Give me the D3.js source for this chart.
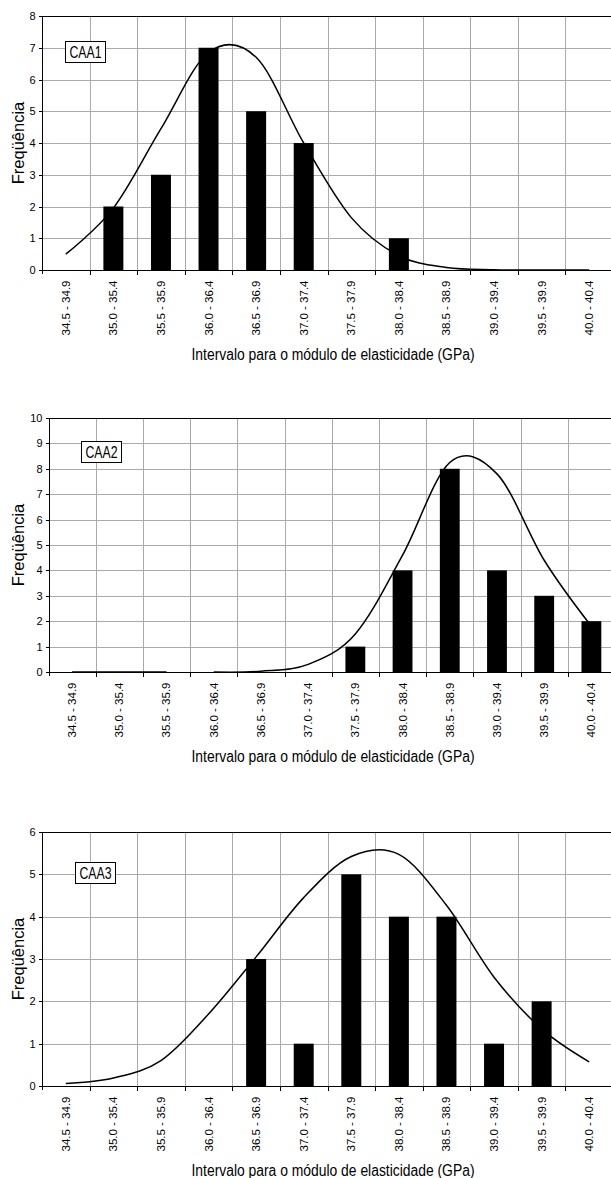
<!DOCTYPE html>
<html>
<head>
<meta charset="utf-8">
<script src="https://cdn.jsdelivr.net/npm/d3@7"></script>
<style>
  body { margin: 0; background: #fff; }
  svg { display: block; }
  .narrow { font-family: "Liberation Sans Narrow", "Arial Narrow", "Liberation Sans", Arial, sans-serif; }
  .grid line { stroke: #aaa; stroke-width: 1; shape-rendering: crispEdges; }
  .axis path, .axis line, .frame { stroke: #000; shape-rendering: crispEdges; }
</style>
</head>
<body>
<div id="chart-container"></div>
<script>
// class intervals (GPa)
var categories = ["34.5 - 34.9", "35.0 - 35.4", "35.5 - 35.9", "36.0 - 36.4",
                  "36.5 - 36.9", "37.0 - 37.4", "37.5 - 37.9", "38.0 - 38.4",
                  "38.5 - 38.9", "39.0 - 39.4", "39.5 - 39.9", "40.0 - 40.4"];

// observed frequencies
var caa1Counts = [0, 2, 3, 7, 5, 4, 0, 1, 0, 0, 0, 0];
var caa2Counts = [0, 0, 0, 0, 0, 0, 1, 4, 8, 4, 3, 2];
var caa3Counts = [0, 0, 0, 0, 3, 1, 5, 4, 4, 1, 2, 0];

// fitted normal curve, read at each class centre
var caa1Curve = [0.5, 1.95, 4.45, 6.85, 6.7, 4.0, 1.65, 0.45, 0.08, 0.01, 0, 0];
var caa2Curve = [0, 0, 0, 0, 0.03, 0.3, 1.5, 4.6, 8.25, 7.8, 4.4, 1.8];
var caa3Curve = [0.06, 0.19, 0.6, 1.7, 3.05, 4.45, 5.42, 5.47, 4.27, 2.57, 1.35, 0.57];

// the CAA2 curve is broken between the 3rd and 4th class
var caa2CurveBreaks = [3];

var seriesNames = ["CAA1", "CAA2", "CAA3"];
var yMaxes = [8, 10, 6];

var xTitle = "Intervalo para o módulo de elasticidade (GPa)";
var yTitle = "Freqüência";

var width = 611, height = 1178;

// one panel per concrete class
var panels = [
  {counts: caa1Counts, curve: caa1Curve, breaks: [], top: 16, left: 42, right: 613, boxX: 65, boxY: 41},
  {counts: caa2Counts, curve: caa2Curve, breaks: caa2CurveBreaks, top: 418, left: 48.5, right: 615, boxX: 81, boxY: 441},
  {counts: caa3Counts, curve: caa3Curve, breaks: [], top: 832, left: 42, right: 613, boxX: 75, boxY: 862}
];
var plotHeight = 254;

var svg = d3.select("#chart-container")
  .append("svg")
    .attr("width", width)
    .attr("height", height);

panels.forEach(function(p, k) {
  var bottom = p.top + plotHeight;

  var xCell = d3.scaleBand()
      .domain(categories)
      .range([p.left, p.right])
      .padding(0);

  var xBar = d3.scaleBand()
      .domain(categories)
      .range([p.left, p.right])
      .paddingInner(0.58)
      .paddingOuter(0.29);

  var y = d3.scaleLinear()
      .domain([0, yMaxes[k]])
      .range([bottom, p.top]);

  var g = svg.append("g");

  // gridlines
  var grid = g.append("g").attr("class", "grid");
  grid.selectAll(".h")
      .data(d3.range(1, yMaxes[k]))
    .enter().append("line")
      .attr("x1", p.left).attr("x2", p.right)
      .attr("y1", function(d) { return Math.round(y(d)) + 0.5; })
      .attr("y2", function(d) { return Math.round(y(d)) + 0.5; });
  grid.selectAll(".v")
      .data(categories.slice(1))
    .enter().append("line")
      .attr("x1", function(d) { return Math.round(xCell(d)) + 0.5; })
      .attr("x2", function(d) { return Math.round(xCell(d)) + 0.5; })
      .attr("y1", p.top).attr("y2", bottom);

  // top frame line
  g.append("line")
      .attr("class", "frame")
      .attr("x1", p.left).attr("x2", p.right)
      .attr("y1", Math.round(p.top) + 0.5).attr("y2", Math.round(p.top) + 0.5);

  // bars
  g.selectAll(".bar")
      .data(categories.map(function(c, i) { return {c: c, v: p.counts[i]}; }))
    .enter().append("rect")
      .attr("class", "bar")
      .attr("x", function(d) { return xBar(d.c); })
      .attr("width", xBar.bandwidth())
      .attr("y", function(d) { return y(d.v); })
      .attr("height", function(d) { return y(0) - y(d.v); })
      .style("fill", "#000");

  // y axis
  var yAxis = d3.axisLeft(y)
      .ticks(yMaxes[k])
      .tickSize(4)
      .tickPadding(3)
      .tickFormat(d3.format("d"));

  g.append("g")
      .attr("class", "axis narrow")
      .attr("transform", "translate(" + (Math.round(p.left) + 0.5) + ",0)")
      .call(yAxis)
      .call(function(s) {
        s.select(".domain").attr("d", "M0," + (p.top) + "V" + (bottom + 4));
        s.selectAll("text").style("font-size", "11px").attr("fill", "#000");
      });

  // x axis: labels at class centres, ticks at class limits
  var xAxis = d3.axisBottom(xCell)
      .tickSize(0)
      .tickPadding(0);

  var xg = g.append("g")
      .attr("class", "axis narrow")
      .attr("transform", "translate(0," + (Math.round(bottom) + 0.5) + ")")
      .call(xAxis);
  xg.select(".domain").attr("d", "M" + p.left + ",0H" + p.right);
  xg.selectAll("text")
      .attr("transform", "rotate(-90)")
      .attr("text-anchor", "end")
      .attr("x", -10)
      .attr("y", 0)
      .attr("dy", "0.36em")
      .attr("fill", "#000")
      .attr("textLength", 55)
      .attr("lengthAdjust", "spacingAndGlyphs")
      .style("font-size", "11px");

  xg.selectAll(".limit")
      .data(categories.slice(1))
    .enter().append("line")
      .attr("class", "limit")
      .attr("x1", function(d) { return Math.round(xCell(d)) + 0.5; })
      .attr("x2", function(d) { return Math.round(xCell(d)) + 0.5; })
      .attr("y1", 0).attr("y2", 4)
      .attr("stroke", "#000");

  // fitted curve
  var line = d3.line()
      .x(function(d) { return xCell(d.c) + xCell.bandwidth() / 2; })
      .y(function(d) { return y(d.v); })
      .curve(d3.curveCatmullRom.alpha(0));

  var pts = categories.map(function(c, i) { return {c: c, v: p.curve[i]}; });
  var cuts = [0].concat(p.breaks, [pts.length]);
  for (var s = 0; s < cuts.length - 1; s++) {
    g.append("path")
        .datum(pts.slice(cuts[s], cuts[s + 1]))
        .attr("d", line)
        .attr("fill", "none")
        .attr("stroke", "#000")
        .attr("stroke-width", 1.5);
  }

  // series label box
  var box = g.append("g")
      .attr("transform", "translate(" + p.boxX + "," + p.boxY + ")");
  box.append("rect")
      .attr("x", 0.5).attr("y", 0.5)
      .attr("width", 40).attr("height", 21)
      .attr("fill", "#fff")
      .attr("stroke", "#000");
  box.append("text")
      .attr("class", "narrow")
      .attr("x", 20.5)
      .attr("y", 17)
      .attr("text-anchor", "middle")
      .attr("textLength", 32)
      .attr("lengthAdjust", "spacingAndGlyphs")
      .style("font-size", "16px")
      .text(seriesNames[k]);

  // axis titles
  g.append("text")
      .attr("class", "narrow")
      .attr("x", 333)
      .attr("y", bottom + 89.5)
      .attr("text-anchor", "middle")
      .attr("textLength", 283)
      .attr("lengthAdjust", "spacingAndGlyphs")
      .style("font-size", "16px")
      .text(xTitle);

  g.append("text")
      .attr("transform", "translate(24," + ((p.top + bottom) / 2) + ") rotate(-90)")
      .attr("text-anchor", "middle")
      .style("font-family", "'Liberation Sans', Arial, sans-serif")
      .style("font-size", "16.5px")
      .text(yTitle);
});
</script>
</body>
</html>
